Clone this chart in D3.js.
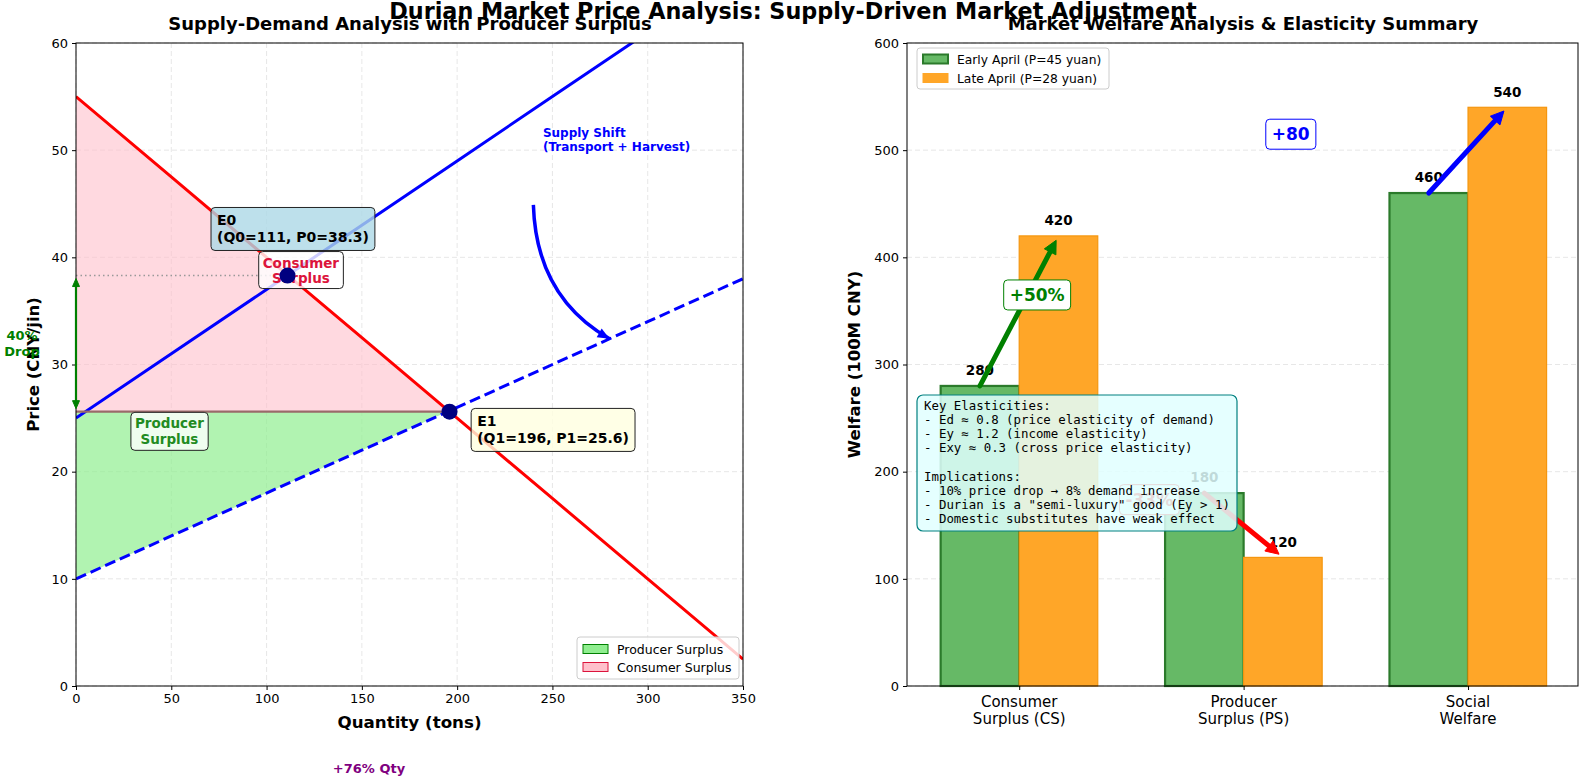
<!DOCTYPE html>
<html><head><meta charset="utf-8">
<script src="https://cdn.jsdelivr.net/npm/d3@7"></script>
<style>body{margin:0;background:#fff} svg{display:block;font-family:"DejaVu Sans",sans-serif}</style>
</head><body><svg id="c" width="1580" height="780"></svg>
<script>
// ---------------- data ----------------
const qDomain = [0, 350];
const pDomain = [0, 60];
const xTicksLeft = [0, 50, 100, 150, 200, 250, 300, 350];
const yTicksLeft = [0, 10, 20, 30, 40, 50, 60];
const demand = {intercept: 55, slope: -0.15};
const supplyOld = {intercept: 25, slope: 0.12};
const supplyNew = {intercept: 10, slope: 0.08};
const eq0 = {q: 111, p: 38.3};
const eq1 = {q: 196, p: 25.6};
const curveSamples = [0, 50, 100, 150, 200, 250, 300, 350];

const categories = ["Consumer\nSurplus (CS)", "Producer\nSurplus (PS)", "Social\nWelfare"];
const earlyApril = [280, 180, 460];
const lateApril = [420, 120, 540];
const yTicksRight = [0, 100, 200, 300, 400, 500, 600];
const changeLabels = ["+50%", "-33%", "+80"];
const changeLabelPos = [[0.08, 365], [0.58, 174], [1.21, 515]];
const changeColors = ["green", "red", "blue"];
const seriesNames = ["Early April (P=45 yuan)", "Late April (P=28 yuan)"];
const elasticityText = [
  "Key Elasticities:",
  "- Ed \u2248 0.8 (price elasticity of demand)",
  "- Ey \u2248 1.2 (income elasticity)",
  "- Exy \u2248 0.3 (cross price elasticity)",
  "",
  "Implications:",
  "- 10% price drop \u2192 8% demand increase",
  "- Durian is a \"semi-luxury\" good (Ey > 1)",
  "- Domestic substitutes have weak effect"
];

// ---------------- setup ----------------
const svg = d3.select("#c");
const FONT = '"DejaVu Sans", sans-serif';
const MONO = '"DejaVu Sans Mono", monospace';

const x = d3.scaleLinear().domain(qDomain).range([76, 743]);
const y = d3.scaleLinear().domain(pDomain).range([686, 43]);

const xr = d3.scaleLinear().domain([-0.5, 2.49]).range([907, 1578]);
const yr = d3.scaleLinear().domain([0, 600]).range([686, 43]);

const defs = svg.append("defs");
defs.append("clipPath").attr("id", "clipL").append("rect")
  .attr("x", 76).attr("y", 43).attr("width", 667).attr("height", 643);

function arrow(g, x1, y1, x2, y2, color, lw, hl, hw, shrinkEnd = 0, both = false, shrinkStart = 0) {
  const dx = x2 - x1, dy = y2 - y1, L = Math.hypot(dx, dy);
  const ux = dx / L, uy = dy / L;
  const sx = x1 + ux * shrinkStart, sy = y1 + uy * shrinkStart;
  const ex = x2 - ux * shrinkEnd, ey = y2 - uy * shrinkEnd;
  const lsx = both ? sx + ux * hl * 0.8 : sx, lsy = both ? sy + uy * hl * 0.8 : sy;
  g.append("line").attr("x1", lsx).attr("y1", lsy)
    .attr("x2", ex - ux * hl * 0.8).attr("y2", ey - uy * hl * 0.8)
    .attr("stroke", color).attr("stroke-width", lw).attr("stroke-linecap", "round");
  const head = (px, py, vx, vy) => {
    const bx = px - vx * hl, by = py - vy * hl;
    g.append("path").attr("d",
      `M${px},${py}L${bx - vy * hw / 2},${by + vx * hw / 2}L${bx + vy * hw / 2},${by - vx * hw / 2}Z`)
      .attr("fill", color).attr("stroke", color).attr("stroke-width", 1).attr("stroke-linejoin", "round");
  };
  head(ex, ey, ux, uy);
  if (both) head(sx, sy, -ux, -uy);
}

function labelBox(g, cx, cy, lines, opts) {
  const grp = g.append("g");
  const t = grp.append("text").style("font-family", opts.family || FONT)
    .attr("font-size", opts.size).attr("font-weight", opts.weight || "bold")
    .attr("fill", opts.color).attr("text-anchor", opts.anchor || "middle");
  const lh = opts.lh || opts.size * 1.2;
  const n = lines.length;
  lines.forEach((s, i) => {
    t.append("tspan").attr("x", cx).attr("y", cy + (i - (n - 1) / 2) * lh + opts.size * 0.36).text(s);
  });
  const bb = t.node().getBBox();
  const pad = opts.pad || 5;
  grp.insert("rect", "text")
    .attr("x", bb.x - pad).attr("y", bb.y - pad + 1)
    .attr("width", bb.width + 2 * pad).attr("height", bb.height + 2 * pad - 2)
    .attr("rx", 4).attr("fill", opts.fill).attr("fill-opacity", opts.alpha == null ? 0.8 : opts.alpha)
    .attr("stroke", opts.stroke).attr("stroke-width", opts.sw || 1);
  return grp;
}

// ---------------- titles ----------------
svg.append("text").attr("x", 410).attr("y", 30).attr("text-anchor", "middle")
  .attr("font-size", 18).attr("font-weight", "bold").text("Supply-Demand Analysis with Producer Surplus");
svg.append("text").attr("x", 1243).attr("y", 30).attr("text-anchor", "middle")
  .attr("font-size", 18).attr("font-weight", "bold").text("Market Welfare Analysis & Elasticity Summary");

// ================= LEFT PANEL =================
const L = svg.append("g");
// grid
L.selectAll(".gx").data(xTicksLeft).enter().append("line")
  .attr("x1", d => x(d)).attr("x2", d => x(d)).attr("y1", y(60)).attr("y2", y(0))
  .attr("stroke", "#b0b0b0").attr("stroke-opacity", 0.35).attr("stroke-dasharray", "5,3").attr("stroke-width", 0.9);
L.selectAll(".gy").data(yTicksLeft).enter().append("line")
  .attr("y1", d => y(d)).attr("y2", d => y(d)).attr("x1", x(0)).attr("x2", x(350))
  .attr("stroke", "#b0b0b0").attr("stroke-opacity", 0.35).attr("stroke-dasharray", "5,3").attr("stroke-width", 0.9);

const dem = q => demand.intercept + demand.slope * q;
const sOld = q => supplyOld.intercept + supplyOld.slope * q;
const sNew = q => supplyNew.intercept + supplyNew.slope * q;

// consumer surplus (pink)
const csPts = [[0, dem(0)], [eq1.q, eq1.p], [0, eq1.p]];
L.append("path").attr("d", d3.line().x(d => x(d[0])).y(d => y(d[1]))(csPts) + "Z")
  .attr("fill", "#ffc0cb").attr("fill-opacity", 0.6);
// producer surplus (green)
const psPts = [[0, eq1.p], [eq1.q, eq1.p], [eq1.q, sNew(eq1.q)], [0, sNew(0)]];
L.append("path").attr("d", d3.line().x(d => x(d[0])).y(d => y(d[1]))(psPts) + "Z")
  .attr("fill", "#90ee90").attr("fill-opacity", 0.7);

// P0 dotted reference
L.append("line").attr("x1", x(0)).attr("x2", x(eq0.q)).attr("y1", y(eq0.p)).attr("y2", y(eq0.p))
  .attr("stroke", "#999").attr("stroke-width", 1.4).attr("stroke-dasharray", "1.5,3");

const cl = L.append("g").attr("clip-path", "url(#clipL)");
const line = d3.line().x(d => x(d[0])).y(d => y(d[1]));
cl.append("path").attr("d", line(curveSamples.map(q => [q, dem(q)])))
  .attr("fill", "none").attr("stroke", "red").attr("stroke-width", 3);
cl.append("path").attr("d", line(curveSamples.map(q => [q, sOld(q)])))
  .attr("fill", "none").attr("stroke", "blue").attr("stroke-width", 3);
cl.append("path").attr("d", line(curveSamples.map(q => [q, sNew(q)])))
  .attr("fill", "none").attr("stroke", "blue").attr("stroke-width", 3).attr("stroke-dasharray", "11,5");
// P1 line
L.append("line").attr("x1", x(0)).attr("x2", x(eq1.q)).attr("y1", y(eq1.p)).attr("y2", y(eq1.p))
  .attr("stroke", "#9a6a6a").attr("stroke-width", 2.2);

// annotation boxes
labelBox(L, x(118), y(38.8), ["Consumer", "Surplus"], {size: 13.5, color: "crimson", fill: "white", stroke: "#222", lh: 15, pad: 4});
labelBox(L, x(49), y(23.75), ["Producer", "Surplus"], {size: 13.5, color: "forestgreen", fill: "white", stroke: "#222", lh: 16, pad: 4});

// equilibrium points
L.append("circle").attr("cx", x(eq0.q)).attr("cy", y(eq0.p)).attr("r", 8).attr("fill", "navy");
L.append("circle").attr("cx", x(eq1.q)).attr("cy", y(eq1.p)).attr("r", 8).attr("fill", "navy");

labelBox(L, x(74), y(42.65), ["E0", "(Q0=111, P0=38.3)"], {size: 14, color: "black", fill: "#add8e6", stroke: "#222", anchor: "start", lh: 17, pad: 6});
labelBox(L, x(210.5), y(23.9), ["E1", "(Q1=196, P1=25.6)"], {size: 14, color: "black", fill: "#ffffe0", stroke: "#222", anchor: "start", lh: 17, pad: 6});

// supply shift text & curved arrow
const ss = L.append("text").attr("fill", "blue").attr("font-size", 12).attr("font-weight", "bold");
ss.append("tspan").attr("x", x(245)).attr("y", y(51.2)).text("Supply Shift");
ss.append("tspan").attr("x", x(245)).attr("y", y(51.2) + 14).text("(Transport + Harvest)");
{
  const p0 = [x(240), y(44.9)], c = [x(241.5), y(36.3)], p1 = [x(280), y(32.4)];
  L.append("path").attr("d", `M${p0}Q${c} ${p1}`).attr("fill", "none").attr("stroke", "blue").attr("stroke-width", 3.5);
  const vx = p1[0] - c[0], vy = p1[1] - c[1], l = Math.hypot(vx, vy);
  const ux = vx / l, uy = vy / l, hl = 12, hw = 10;
  const bx = p1[0] - ux * hl, by = p1[1] - uy * hl;
  L.append("path").attr("d", `M${p1}L${bx - uy * hw / 2},${by + ux * hw / 2}L${bx + uy * hw / 2},${by - ux * hw / 2}Z`).attr("fill", "blue");
}

// axes
const axB = L.append("g").attr("transform", `translate(0,${y(0)})`)
  .call(d3.axisBottom(x).tickValues(xTicksLeft).tickSize(4).tickPadding(4));
const axLft = L.append("g").attr("transform", `translate(${x(0)},0)`)
  .call(d3.axisLeft(y).tickValues(yTicksLeft).tickSize(4).tickPadding(4));
[axB, axLft].forEach(a => { a.selectAll("text").attr("font-size", 13).style("font-family", FONT).attr("fill", "#000"); a.select(".domain").remove(); });
L.append("rect").attr("x", x(0)).attr("y", y(60)).attr("width", x(350) - x(0)).attr("height", y(0) - y(60))
  .attr("fill", "none").attr("stroke", "#000").attr("stroke-width", 1);

L.append("text").attr("x", (x(0) + x(350)) / 2).attr("y", 728).attr("text-anchor", "middle")
  .attr("font-size", 16.7).attr("font-weight", "bold").text("Quantity (tons)");
L.append("text").attr("transform", `translate(39,${(y(0) + y(60)) / 2}) rotate(-90)`).attr("text-anchor", "middle")
  .attr("font-size", 16.5).attr("font-weight", "bold").text("Price (CNY/jin)");

// 40% drop arrow
arrow(L, x(0), y(eq0.p), x(0), y(eq1.p), "green", 2.2, 8, 7, 3, true, 3);
const dt = L.append("text").attr("fill", "green").attr("font-size", 13).attr("font-weight", "bold").attr("text-anchor", "middle");
dt.append("tspan").attr("x", 22).attr("y", 340).text("40%");
dt.append("tspan").attr("x", 22).attr("y", 356).text("Drop");

L.append("text").attr("x", 369).attr("y", 773).attr("text-anchor", "middle").attr("fill", "purple")
  .attr("font-size", 13).attr("font-weight", "bold").text("+76% Qty");

// left legend
{
  const lg = L.append("g");
  lg.append("rect").attr("x", 577).attr("y", 637).attr("width", 162).attr("height", 42).attr("rx", 3)
    .attr("fill", "white").attr("fill-opacity", 0.8).attr("stroke", "#ccc");
  const items = [["Producer Surplus", "#90ee90", "green"], ["Consumer Surplus", "#ffc0cb", "crimson"]];
  items.forEach((it, i) => {
    const yy = 649 + i * 18;
    lg.append("rect").attr("x", 583).attr("y", yy - 4.5).attr("width", 25).attr("height", 9)
      .attr("fill", it[1]).attr("stroke", it[2]).attr("stroke-width", 1);
    lg.append("text").attr("x", 617).attr("y", yy + 4.5).attr("font-size", 12.5).text(it[0]);
  });
}

// ================= RIGHT PANEL =================
const R = svg.append("g");
R.selectAll(".gyr").data(yTicksRight).enter().append("line")
  .attr("y1", d => yr(d)).attr("y2", d => yr(d)).attr("x1", xr.range()[0]).attr("x2", xr.range()[1])
  .attr("stroke", "#b0b0b0").attr("stroke-opacity", 0.35).attr("stroke-dasharray", "5,3").attr("stroke-width", 0.9);

const bw = 0.35;
const bars = R.append("g");
categories.forEach((c, i) => {
  bars.append("rect").attr("x", xr(i - bw)).attr("y", yr(earlyApril[i])).attr("width", xr(bw) - xr(0))
    .attr("height", yr(0) - yr(earlyApril[i])).attr("fill", "#66b966").attr("stroke", "#2b7a2b").attr("stroke-width", 2.2);
  bars.append("rect").attr("x", xr(i)).attr("y", yr(lateApril[i])).attr("width", xr(bw) - xr(0))
    .attr("height", yr(0) - yr(lateApril[i])).attr("fill", "#ffa628").attr("stroke", "#f5960f").attr("stroke-width", 1.2);
});
// value labels
categories.forEach((c, i) => {
  R.append("text").attr("x", xr(i - bw / 2)).attr("y", yr(earlyApril[i] + 10)).attr("text-anchor", "middle")
    .attr("font-size", 13.5).attr("font-weight", "bold").text(earlyApril[i]);
  R.append("text").attr("x", xr(i + bw / 2)).attr("y", yr(lateApril[i] + 10)).attr("text-anchor", "middle")
    .attr("font-size", 13.5).attr("font-weight", "bold").text(lateApril[i]);
});
// change arrows & labels
categories.forEach((c, i) => {
  arrow(R, xr(i - bw / 2), yr(earlyApril[i]), xr(i + bw / 2), yr(lateApril[i]), changeColors[i], 5, 13, 13, 5);
});
categories.forEach((c, i) => {
  labelBox(R, xr(changeLabelPos[i][0]), yr(changeLabelPos[i][1]), [changeLabels[i]],
    {size: 17, color: changeColors[i], fill: "white", stroke: changeColors[i], pad: 6, alpha: 1});
});

// elasticity box
{
  const ex0 = 917, ey0 = 395;
  const g = R.append("g");
  g.append("rect").attr("x", ex0).attr("y", ey0).attr("width", 320).attr("height", 136).attr("rx", 6)
    .attr("fill", "#e0ffff").attr("fill-opacity", 0.85).attr("stroke", "teal").attr("stroke-width", 1.2);
  const t = g.append("text").style("font-family", MONO).attr("font-size", 12.4);
  elasticityText.forEach((s, i) => {
    t.append("tspan").attr("x", ex0 + 7).attr("y", ey0 + 15 + i * 14.1).text(s);
  });
}

// axes
const axBR = R.append("g").attr("transform", `translate(0,${yr(0)})`)
  .call(d3.axisBottom(xr).tickValues([0, 1, 2]).tickSize(4).tickFormat(""));
axBR.select(".domain").remove();
categories.forEach((c, i) => {
  const t = R.append("text").attr("text-anchor", "middle").attr("font-size", 15);
  c.split("\n").forEach((s, k) => t.append("tspan").attr("x", xr(i)).attr("y", 707 + k * 17).text(s));
});
const axLR = R.append("g").attr("transform", `translate(${xr.range()[0]},0)`)
  .call(d3.axisLeft(yr).tickValues(yTicksRight).tickSize(4).tickPadding(4));
axLR.select(".domain").remove();
axLR.selectAll("text").attr("font-size", 13).style("font-family", FONT).attr("fill", "#000");
R.append("rect").attr("x", xr.range()[0]).attr("y", yr(600)).attr("width", xr.range()[1] - xr.range()[0])
  .attr("height", yr(0) - yr(600)).attr("fill", "none").attr("stroke", "#000").attr("stroke-width", 1);
R.append("text").attr("transform", `translate(860,${(yr(0) + yr(600)) / 2}) rotate(-90)`).attr("text-anchor", "middle")
  .attr("font-size", 16.5).attr("font-weight", "bold").text("Welfare (100M CNY)");

// right legend
{
  const lg = R.append("g");
  lg.append("rect").attr("x", 917).attr("y", 48).attr("width", 192).attr("height", 41).attr("rx", 3)
    .attr("fill", "white").attr("fill-opacity", 0.8).attr("stroke", "#ccc");
  const cols = [["#66b966", "#2b7a2b", 2], ["#ffa628", "#ffa628", 1]];
  seriesNames.forEach((s, i) => {
    const yy = 59 + i * 19;
    lg.append("rect").attr("x", 923).attr("y", yy - 4.5).attr("width", 25).attr("height", 9)
      .attr("fill", cols[i][0]).attr("stroke", cols[i][1]).attr("stroke-width", cols[i][2]);
    lg.append("text").attr("x", 957).attr("y", yy + 4.5).attr("font-size", 12.3).text(s);
  });
}

// main title (on top)
svg.append("text").attr("x", 793).attr("y", 19).attr("text-anchor", "middle")
  .attr("font-size", 22.3).attr("font-weight", "bold").text("Durian Market Price Analysis: Supply-Driven Market Adjustment");
</script></body></html>
